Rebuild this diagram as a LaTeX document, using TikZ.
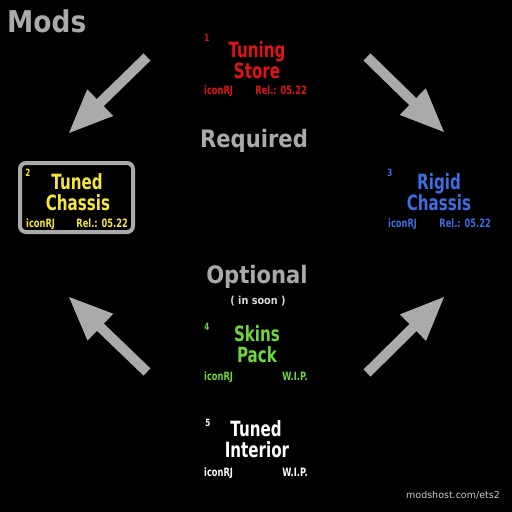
\documentclass[tikz,border=0pt]{standalone}
\usepackage{fontspec}
\usetikzlibrary{arrows.meta}

\newfontfamily\pixfont{DejaVu Sans}[UprightFont=* Bold,FakeStretch=0.72]
\newfontfamily\headfont{DejaVu Sans}[UprightFont=* Bold,FakeStretch=0.88]
\newfontfamily\wmfont{DejaVu Sans}

\definecolor{modred}{RGB}{225,20,20}
\definecolor{modyellow}{RGB}{245,230,60}
\definecolor{modblue}{RGB}{60,110,225}
\definecolor{modgreen}{RGB}{110,215,60}
\definecolor{modgray}{RGB}{170,170,170}

\tikzset{
  title/.style={font=\pixfont\fontsize{21}{21}\selectfont, inner sep=0pt, anchor=base},
  meta/.style={font=\pixfont\fontsize{11.5}{11.5}\selectfont, inner sep=0pt},
  num/.style={font=\pixfont\fontsize{10}{10}\selectfont, inner sep=0pt},
  head/.style={font=\headfont\fontsize{24}{24}\selectfont, text=modgray, inner sep=0pt},
  bigarrow/.style={modgray, line width=10pt, -{Triangle[length=45pt,width=34pt]}}
}

\begin{document}
\begin{tikzpicture}[x=1pt,y=-1pt]

\fill[black] (0,0) rectangle (512,512);
\useasboundingbox (0,0) rectangle (512,512);

% headings
\node[head, anchor=base west, font=\headfont\fontsize{30}{30}\selectfont] (mods) at (7,32) {Mods};
\node[head, anchor=base] (required) at (254,147) {Required};
\node[head, anchor=base] (optional) at (257,283) {Optional};
\node[font=\headfont\fontsize{11}{11}\selectfont, text=white!85!black, inner sep=0pt, anchor=base] (soon) at (258,304) {( in soon )};

% 1 tuning store
\node[num, text=modred] (n1) at (207,38) {1};
\node[title, text=modred] (ts1) at (257,57) {Tuning};
\node[title, text=modred] (ts2) at (257,78) {Store};
\node[meta, text=modred, anchor=base west] (tsA) at (204,94) {iconRJ};
\node[meta, text=modred, anchor=base east] (tsB) at (307,94) {Rel.: 05.22};

% 2 tuned chassis
\draw[modgray, line width=4pt, rounded corners=6pt] (20,163) rectangle (133,232);
\node[num, text=modyellow] (n2) at (28,173) {2};
\node[title, text=modyellow] (tc1) at (77,189) {Tuned};
\node[title, text=modyellow] (tc2) at (78,210) {Chassis};
\node[meta, text=modyellow, anchor=base west] (tcA) at (26,227) {iconRJ};
\node[meta, text=modyellow, anchor=base east] (tcB) at (128,227) {Rel.: 05.22};

% 3 rigid chassis
\node[num, text=modblue] (n3) at (390,173) {3};
\node[title, text=modblue] (rc1) at (439,189) {Rigid};
\node[title, text=modblue] (rc2) at (439,210) {Chassis};
\node[meta, text=modblue, anchor=base west] (rcA) at (388,227) {iconRJ};
\node[meta, text=modblue, anchor=base east] (rcB) at (491,227) {Rel.: 05.22};

% 4 skins pack
\node[num, text=modgreen] (n4) at (207,327) {4};
\node[title, text=modgreen] (sp1) at (257,341) {Skins};
\node[title, text=modgreen] (sp2) at (257,362) {Pack};
\node[meta, text=modgreen, anchor=base west] (spA) at (204,380) {iconRJ};
\node[meta, text=modgreen, anchor=base east] (spB) at (308,380) {W.I.P.};

% 5 tuned interior
\node[num, text=white] (n5) at (208,423) {5};
\node[title, text=white] (ti1) at (256,436) {Tuned};
\node[title, text=white] (ti2) at (257,457) {Interior};
\node[meta, text=white, anchor=base west] (tiA) at (204,476) {iconRJ};
\node[meta, text=white, anchor=base east] (tiB) at (308,476) {W.I.P.};

% arrows
\coordinate (tlTail) at (147,57);  \coordinate (tlTip) at (68,134);
\coordinate (trTail) at (367,57);  \coordinate (trTip) at (445,133);
\coordinate (blTail) at (147,372); \coordinate (blTip) at (68,296);
\coordinate (brTail) at (367,373); \coordinate (brTip) at (445,296);
\draw[bigarrow] (tlTail) -- (tlTip);
\draw[bigarrow] (trTail) -- (trTip);
\draw[bigarrow] (blTail) -- (blTip);
\draw[bigarrow] (brTail) -- (brTip);

\node[font=\wmfont\fontsize{9.5}{9.5}\selectfont, text=white!80!black, inner sep=0pt] (wm) at (453,495) {modshost.com/ets2};

\end{tikzpicture}
\end{document}
